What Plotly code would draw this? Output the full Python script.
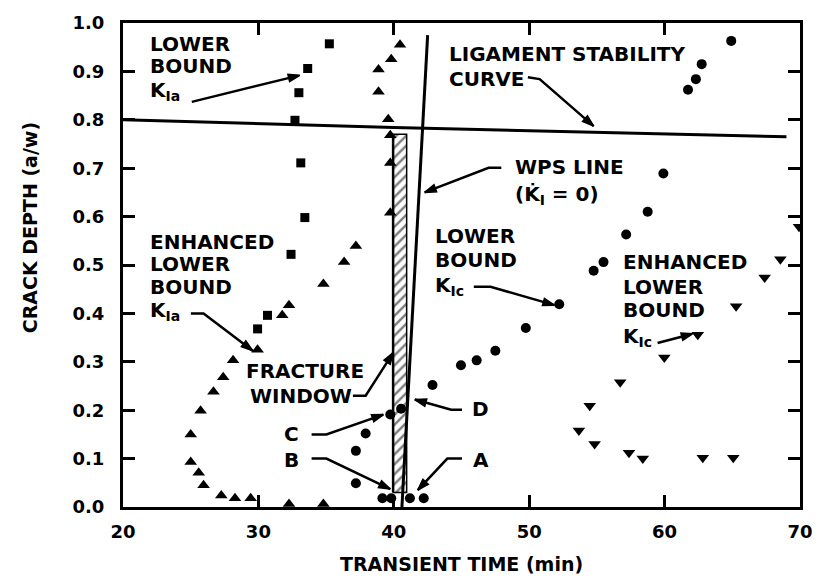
import plotly.graph_objects as go

# Lower bound K_Ia (squares)
lb_kia_t = [35.24, 33.64, 32.99, 32.70, 33.13, 33.43, 32.41, 30.67, 29.94]
lb_kia_d = [0.957, 0.906, 0.856, 0.799, 0.711, 0.598, 0.522, 0.396, 0.368]

# Enhanced lower bound K_Ia (triangles)
elb_kia_t = [40.46, 39.81, 38.87, 38.87, 39.59, 39.74, 39.74, 39.74, 37.20, 36.33,
             34.80, 32.26, 31.76, 29.94, 28.13, 27.40, 26.68, 25.73, 25.00, 25.00,
             25.59, 25.95, 27.26, 28.27, 29.43, 32.26, 34.80]
elb_kia_d = [0.955, 0.925, 0.904, 0.858, 0.801, 0.768, 0.711, 0.608, 0.539, 0.506,
             0.461, 0.417, 0.396, 0.325, 0.303, 0.268, 0.238, 0.199, 0.150, 0.093,
             0.071, 0.045, 0.024, 0.018, 0.018, 0.006, 0.006]

# Lower bound K_Ic (circles)
lb_kic_t = [37.20, 37.20, 37.92, 39.16, 39.81, 39.74, 40.54, 41.19, 42.21, 42.86,
            44.96, 46.12, 47.50, 49.75, 52.22, 54.76, 55.49, 57.16, 58.75, 59.91,
            61.73, 62.31, 62.74, 64.92]
lb_kic_d = [0.049, 0.116, 0.152, 0.018, 0.018, 0.191, 0.203, 0.018, 0.018, 0.252,
            0.293, 0.303, 0.323, 0.370, 0.419, 0.488, 0.506, 0.563, 0.610, 0.689,
            0.862, 0.884, 0.915, 0.963]

# Enhanced lower bound K_Ic (inverted triangles)
elb_kic_t = [53.67, 54.47, 54.83, 56.72, 57.37, 58.39, 59.98, 62.45, 62.82, 65.07,
             65.28, 67.39, 68.55, 69.93]
elb_kic_d = [0.158, 0.209, 0.130, 0.258, 0.112, 0.100, 0.309, 0.356, 0.102, 0.102,
             0.415, 0.474, 0.512, 0.579]

# Ligament stability curve and warm prestress line
ligament_t = [20.0, 40.0, 69.0]
ligament_d = [0.800, 0.784, 0.765]
wps_t = [40.6, 42.5]
wps_d = [0.0, 0.975]

# Fracture window bounds
window_t = [39.95, 40.95]
window_d = [0.03, 0.77]

x_ticks = [20, 30, 40, 50, 60, 70]
y_ticks = [0.0, 0.1, 0.2, 0.3, 0.4, 0.5, 0.6, 0.7, 0.8, 0.9, 1.0]

FONT = "DejaVu Sans"
BLACK = "black"

fig = go.Figure()

# hatched fracture window
fig.add_trace(go.Scatter(
    x=[window_t[0], window_t[1], window_t[1], window_t[0], window_t[0]],
    y=[window_d[0], window_d[0], window_d[1], window_d[1], window_d[0]],
    mode="lines", fill="toself",
    fillpattern=dict(shape="/", fgcolor=BLACK, bgcolor="white", size=7, solidity=0.35),
    fillcolor="white",
    line=dict(color=BLACK, width=1.5), hoverinfo="skip", showlegend=False))
fig.add_trace(go.Scatter(x=[window_t[0], window_t[0]], y=window_d, mode="lines",
                         line=dict(color=BLACK, width=2.5), hoverinfo="skip", showlegend=False))

fig.add_trace(go.Scatter(x=ligament_t, y=ligament_d, mode="lines",
                         line=dict(color=BLACK, width=3), showlegend=False))
fig.add_trace(go.Scatter(x=wps_t, y=wps_d, mode="lines",
                         line=dict(color=BLACK, width=3), showlegend=False))

marker_line = dict(width=0)
fig.add_trace(go.Scatter(x=lb_kia_t, y=lb_kia_d, mode="markers",
                         marker=dict(symbol="square", size=9, color=BLACK, line=marker_line),
                         showlegend=False))
fig.add_trace(go.Scatter(x=elb_kia_t, y=elb_kia_d, mode="markers",
                         marker=dict(symbol="triangle-up", size=11, color=BLACK, line=marker_line),
                         showlegend=False))
fig.add_trace(go.Scatter(x=lb_kic_t, y=lb_kic_d, mode="markers",
                         marker=dict(symbol="circle", size=10, color=BLACK, line=marker_line),
                         showlegend=False))
fig.add_trace(go.Scatter(x=elb_kic_t, y=elb_kic_d, mode="markers",
                         marker=dict(symbol="triangle-down", size=11, color=BLACK, line=marker_line),
                         showlegend=False))

label_font = dict(family=FONT, size=20, color=BLACK, weight="bold")


def label(text, x, y, anchor="left"):
    fig.add_annotation(x=x, y=y, xref="x", yref="y", text=text, showarrow=False,
                       xanchor=anchor, yanchor="middle", font=label_font)


def arrow(path):
    # leader line through the given (t, d) points, arrowhead at the last one
    xs = [p[0] for p in path]
    ys = [p[1] for p in path]
    n = len(path)
    fig.add_trace(go.Scatter(
        x=xs, y=ys, mode="lines+markers",
        line=dict(color=BLACK, width=2.5),
        marker=dict(symbol=["circle"] * (n - 1) + ["arrow"],
                    size=[0] * (n - 1) + [12], color=BLACK, opacity=1,
                    angleref="previous", line=dict(width=1.5, color=BLACK)),
        hoverinfo="skip", showlegend=False))


K_IA = "K<sub>Ia</sub>"
K_IC = "K<sub>Ic</sub>"

label("LOWER", 21.81, 0.957)
label("BOUND", 21.81, 0.911)
label(K_IA, 21.81, 0.860)
arrow([(25.08, 0.837), (33.06, 0.892)])

label("ENHANCED", 21.81, 0.547)
label("LOWER", 21.81, 0.502)
label("BOUND", 21.81, 0.455)
label(K_IA, 21.81, 0.405)
arrow([(25.01, 0.400), (25.95, 0.400), (29.58, 0.323)])

label("FRACTURE", 28.93, 0.280)
label("WINDOW", 29.22, 0.230)
arrow([(36.98, 0.230), (37.92, 0.230), (39.96, 0.319)])

label("C", 32.48, 0.150, "center")
arrow([(33.93, 0.150), (35.02, 0.150), (39.23, 0.191)])
label("B", 32.48, 0.098, "center")
arrow([(33.93, 0.100), (35.02, 0.100), (39.74, 0.037)])

label("D", 46.42, 0.203, "center")
arrow([(45.04, 0.201), (44.24, 0.201), (41.55, 0.222)])
label("A", 46.42, 0.098, "center")
arrow([(45.04, 0.100), (43.95, 0.100), (41.77, 0.035)])

label("LIGAMENT STABILITY", 43.95, 0.935)
label("CURVE", 43.95, 0.884)
arrow([(49.90, 0.888), (50.77, 0.884), (54.76, 0.787)])

label("WPS LINE", 48.81, 0.703)
label("(K\u0307<sub>I</sub> = 0)", 48.81, 0.644)
arrow([(47.94, 0.701), (47.00, 0.701), (42.28, 0.650)])

label("LOWER", 42.93, 0.559)
label("BOUND", 42.93, 0.510)
label(K_IC, 42.93, 0.457)
arrow([(45.91, 0.455), (47.14, 0.455), (51.86, 0.417)])

label("ENHANCED", 56.79, 0.506)
label("LOWER", 56.79, 0.455)
label("BOUND", 56.79, 0.407)
label(K_IC, 56.79, 0.352)
arrow([(59.48, 0.339), (62.09, 0.358)])

title_font = dict(family=FONT, size=19, color=BLACK, weight="bold")
fig.add_annotation(x=0.5, y=-0.118, xref="paper", yref="paper", text="TRANSIENT TIME (min)",
                   showarrow=False, xanchor="center", yanchor="middle", font=title_font)
fig.add_annotation(x=-0.138, y=0.577, xref="paper", yref="paper", text="CRACK DEPTH (a/w)",
                   textangle=-90, showarrow=False, xanchor="center", yanchor="middle",
                   font=title_font)

tick_font = dict(family=FONT, size=18, color=BLACK, weight="bold")
axis_common = dict(showgrid=False, zeroline=False, showline=True, linecolor=BLACK,
                   linewidth=3, mirror="ticks", ticks="inside", ticklen=12,
                   tickwidth=2.5, tickcolor=BLACK, tickfont=tick_font)

fig.update_xaxes(range=[20, 70], tickvals=x_ticks, ticktext=[str(v) for v in x_ticks],
                 ticklabelstandoff=6, **axis_common)
fig.update_yaxes(range=[0, 1], tickvals=y_ticks, ticktext=[f"{v:.1f}" for v in y_ticks],
                 ticklabelstandoff=12, **axis_common)

fig.update_layout(width=825, height=582, margin=dict(l=123, r=13, t=15, b=75),
                  plot_bgcolor="white", paper_bgcolor="white", showlegend=False)

fig.write_html("out.html")
